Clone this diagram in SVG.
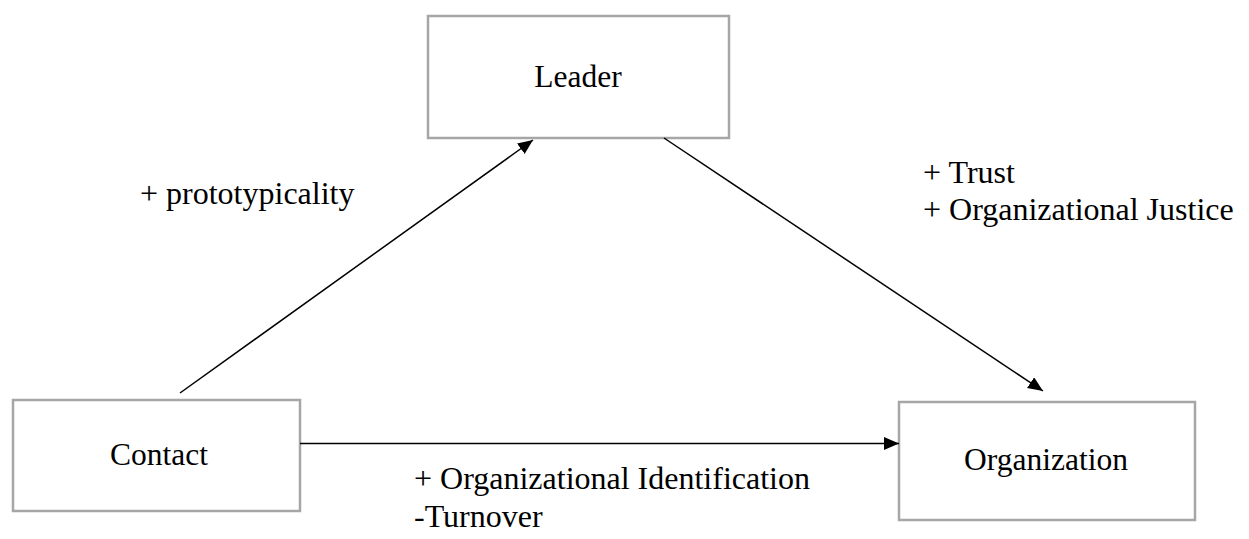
<svg xmlns="http://www.w3.org/2000/svg" width="1249" height="539" viewBox="0 0 1249 539">
  <style>
    .box { fill: #ffffff; stroke: #a6a6a6; stroke-width: 2.5; }
    .label { font-family: "Liberation Serif", "Times New Roman", serif; font-size: 31.5px; fill: #000000; }
    .note { font-size: 32px; }
    .mid { text-anchor: middle; }
    .edge { stroke: #000000; stroke-width: 1.5; fill: none; marker-end: url(#arrow); }
  </style>
  <defs>
    <marker id="arrow" markerUnits="userSpaceOnUse" markerWidth="16" markerHeight="14" refX="15" refY="6.5" orient="auto">
      <path d="M0,0 L15,6.5 L0,13 Z" fill="#000000"/>
    </marker>
  </defs>
  <rect width="1249" height="539" fill="#ffffff"/>

  <g id="node-leader">
    <rect class="box" x="428" y="16" width="301" height="122"/>
    <text class="label mid" x="578" y="87">Leader</text>
  </g>

  <g id="node-contact">
    <rect class="box" x="13" y="400" width="287" height="111"/>
    <text class="label mid" x="159" y="465">Contact</text>
  </g>

  <g id="node-organization">
    <rect class="box" x="899" y="402" width="296" height="118"/>
    <text class="label mid" x="1046" y="470">Organization</text>
  </g>

  <g id="connectors">
    <line class="edge" x1="180" y1="393" x2="533" y2="140"/>
    <line class="edge" x1="664" y1="138" x2="1043" y2="391"/>
    <line class="edge" x1="300" y1="443.5" x2="899" y2="443.5"/>
  </g>

  <g id="edge-labels">
    <text class="label note" x="140" y="204">+ prototypicality</text>
    <text class="label note" x="923" y="183">+ Trust</text>
    <text class="label note" x="923" y="220">+ Organizational Justice</text>
    <text class="label note" x="414" y="489">+ Organizational Identification</text>
    <text class="label note" x="414" y="527">-Turnover</text>
  </g>
</svg>
